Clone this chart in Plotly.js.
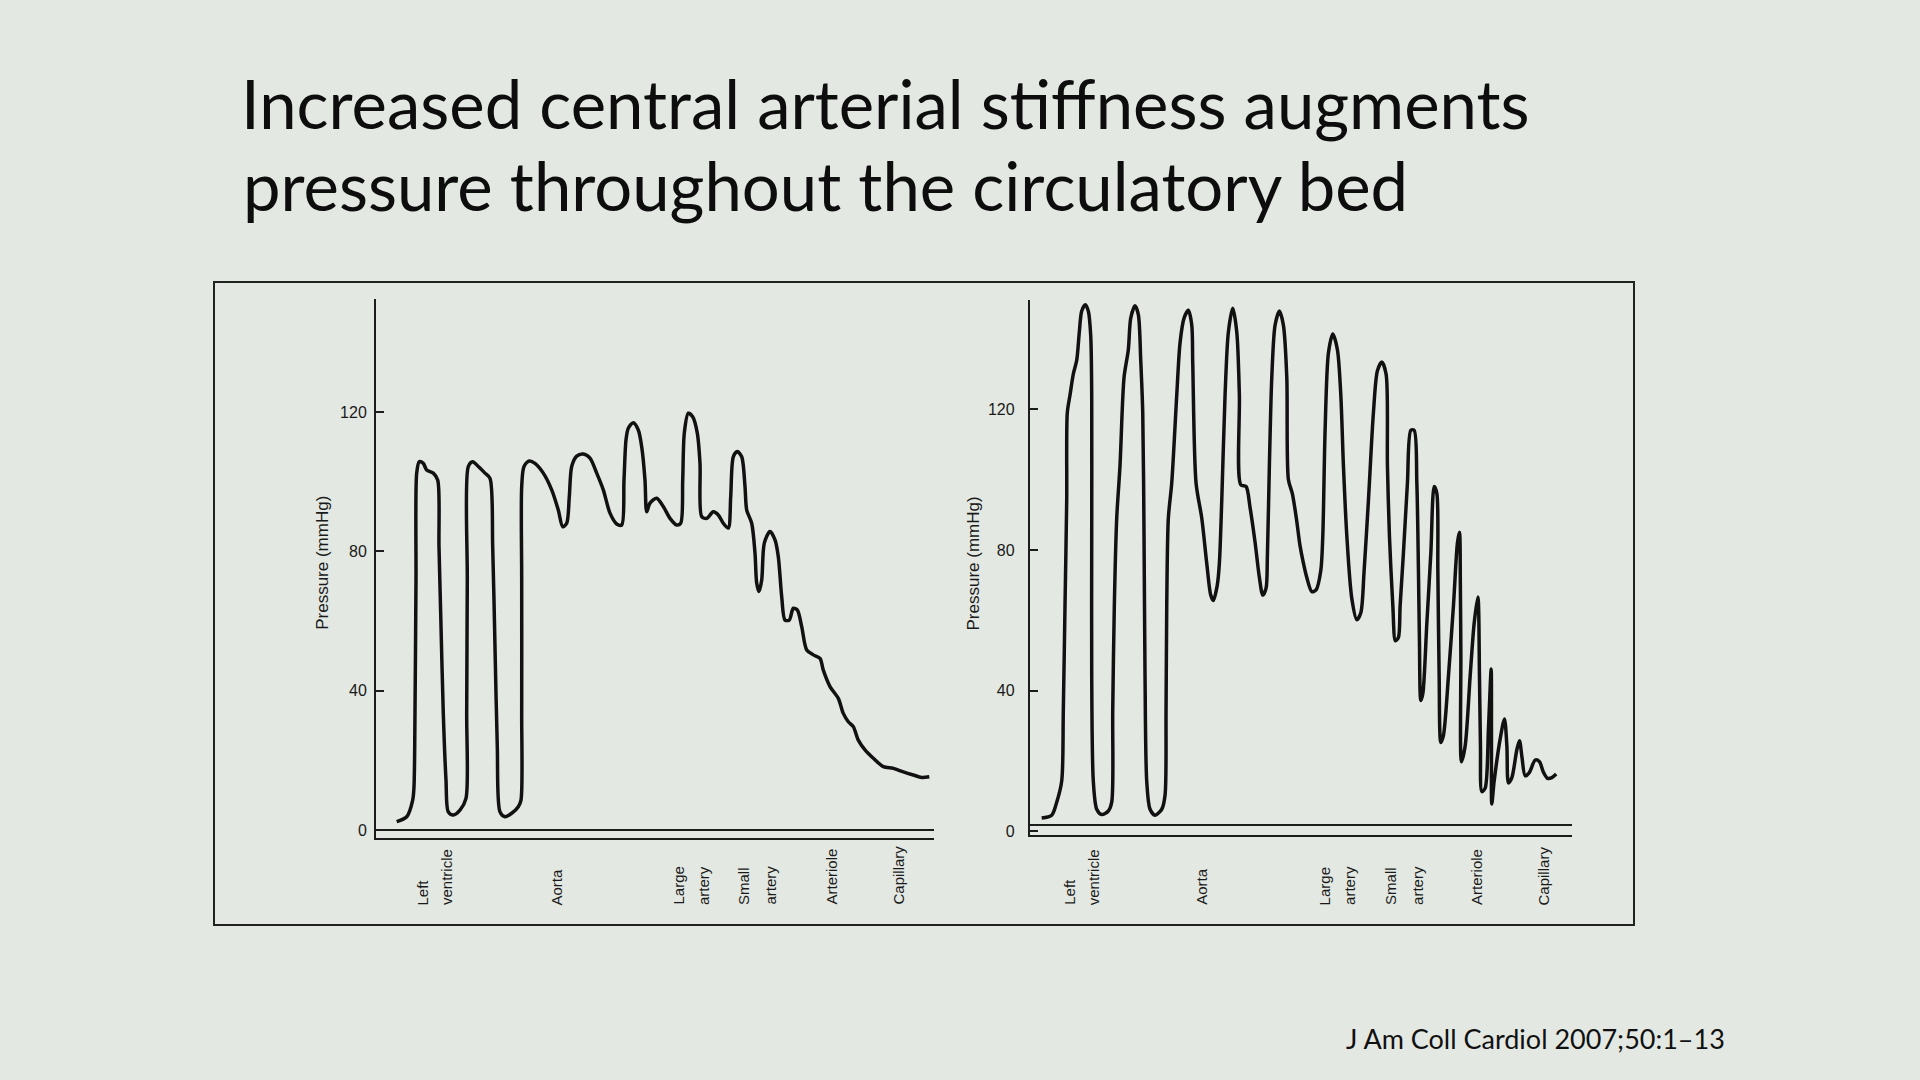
<!DOCTYPE html>
<html>
<head>
<meta charset="utf-8">
<script src="https://cdn.plot.ly/plotly-3.0.1.min.js"></script>
<style>
  html, body { margin: 0; padding: 0; background: #e3e8e2; }
  #chart { width: 1920px; height: 1080px; }
</style>
</head>
<body>
<div id="chart"></div>
<script>
// ---- Data (position along the bed, pressure in mmHg) ----
// Left panel: compliant (normal) central arteries
const leftPos = [20.7,30.7,36.7,38.0,39.0,40.0,40.7,43.3,47.3,50.7,
  57.3,61.7,63.0,64.7,67.3,70.0,72.3,77.3,84.0,90.0,
  90.7,91.3,92.3,96.7,102.3,109.0,114.0,116.7,119.0,121.3,
  124.0,129.0,135.7,142.3,145.0,145.7,145.7,145.7,148.0,153.3,
  159.0,167.3,175.7,182.3,186.7,190.7,193.3,195.7,200.7,207.3,
  214.0,220.7,227.3,234.0,240.7,245.7,248.0,250.0,252.3,257.3,
  262.3,265.7,269.0,270.7,274.0,280.7,287.3,294.0,300.7,304.7,
  306.7,308.3,312.3,316.7,321.3,324.0,325.7,330.7,337.3,342.3,
  347.3,352.3,354.7,357.3,361.3,365.7,369.0,370.7,375.7,379.0,
  380.7,383.0,385.7,388.3,394.0,399.0,402.3,405.7,409.0,413.3,
  417.3,421.3,425.7,430.7,437.3,444.0,447.3,454.0,462.3,467.3,
  472.3,477.3,482.3,489.0,497.3,507.3,517.3,527.3,537.3,545.7,
  553.3];
const leftPressure = [2.4,3.8,8.6,12.4,33.5,71.8,102.5,105.8,105.3,103.4,
  102.5,100.5,81.4,62.2,33.5,14.3,5.2,4.3,5.7,9.1,
  33.5,71.8,104.4,105.8,104.4,102.5,101.0,81.4,52.6,23.9,
  5.2,3.8,4.8,6.7,8.6,33.5,71.8,98.6,104.4,106.0,
  105.3,102.5,97.7,91.9,87.1,88.1,95.7,104.4,107.4,108.0,
  106.8,102.5,97.7,91.0,87.9,87.6,100.5,112.0,115.4,117.0,
  114.9,110.1,100.5,91.4,93.9,95.3,92.9,89.5,87.6,88.1,
  100.5,114.0,119.7,118.7,114.0,105.3,90.0,89.5,91.4,90.5,
  88.1,86.7,95.7,107.2,108.7,107.2,98.6,91.9,88.1,79.5,
  70.9,68.5,71.8,82.4,85.7,83.3,78.5,67.0,60.3,60.3,
  63.7,63.2,58.4,51.7,50.3,49.3,45.9,41.2,37.8,33.5,
  31.1,29.7,25.8,23.0,20.6,18.2,17.7,16.7,15.8,15.1,
  15.3];

// Right panel: stiff central arteries
const rightPos = [11.9,21.9,26.9,31.9,33.5,35.2,36.9,37.5,40.2,43.5,
  46.9,49.5,51.9,55.5,58.5,60.9,61.9,61.9,61.9,63.5,
  66.9,71.9,78.5,81.9,82.9,84.5,86.9,90.2,94.2,98.5,
  100.9,105.2,108.5,110.9,112.9,114.2,115.2,116.9,120.2,125.2,
  131.9,135.2,136.2,136.9,138.5,141.9,146.9,150.2,154.2,158.5,
  161.9,162.9,166.2,171.9,176.9,180.9,183.5,187.5,189.5,191.9,
  195.2,198.5,202.9,206.9,209.5,210.9,216.2,220.2,225.2,229.5,
  232.9,236.2,237.5,239.5,241.9,245.2,249.5,253.5,256.9,258.5,
  262.5,266.5,270.0,273.0,276.9,281.9,286.2,290.9,292.9,295.2,
  298.5,302.9,307.5,310.9,313.5,316.9,321.9,326.9,330.9,334.2,
  338.5,343.5,347.5,351.9,356.2,357.5,359.5,362.9,365.5,368.5,
  370.2,373.5,377.5,380.9,384.2,386.9,388.5,389.5,390.9,392.9,
  396.9,400.9,404.2,406.9,407.9,409.2,410.9,413.5,418.5,423.5,
  427.5,429.5,430.4,430.9,431.5,435.2,440.2,444.2,447.9,449.5,
  450.5,451.9,455.2,458.5,461.2,461.5,461.8,464.2,470.2,474.5,
  476.9,478.5,481.9,486.9,489.5,491.9,495.2,499.5,505.2,509.5,
  513.5,517.5,521.9,526.2];
const rightPressure = [3.8,4.6,8.3,14.3,34.2,64.2,94.1,119.1,124.1,130.1,
  134.0,142.0,148.0,149.8,148.0,141.0,124.1,84.1,44.2,14.3,
  6.3,4.8,5.8,8.3,34.2,64.2,89.1,104.1,129.1,137.0,
  146.0,149.5,147.0,134.0,119.1,84.1,44.2,14.3,6.3,4.6,
  6.3,10.3,34.2,64.2,89.1,99.1,124.1,139.0,146.0,148.2,
  144.0,133.0,99.1,89.1,76.2,67.2,65.7,70.2,76.2,94.1,
  124.1,142.0,148.8,142.0,124.1,98.6,98.1,92.1,82.2,72.2,
  67.2,69.2,78.2,104.1,129.1,144.0,148.0,144.0,129.1,100.1,
  96.0,89.0,81.5,77.0,72.2,68.2,68.7,74.2,84.1,114.1,
  136.0,141.5,137.0,124.1,104.1,84.1,66.2,60.2,62.2,74.2,
  94.1,119.1,131.0,133.5,130.0,104.1,84.1,64.2,54.2,55.2,
  64.2,79.2,99.1,114.1,114.1,99.1,74.2,54.2,37.2,39.2,
  59.2,79.2,98.1,96.1,74.2,44.2,25.3,27.3,44.2,64.2,
  82.1,85.1,70.0,50.0,19.8,24.3,44.2,59.2,66.7,44.2,
  24.3,11.3,12.3,29.3,46.2,25.0,7.8,14.3,26.3,32.0,
  24.3,13.8,15.3,23.3,25.8,21.3,15.8,16.8,20.3,19.8,
  16.8,15.1,15.3,16.3];

// Axis ticks and site labels
const pressureTicks = [0, 40, 80, 120];
const pressureTickText = ['0', '40', '80', '120'];
const siteLabels = ['Left', 'ventricle', 'Aorta', 'Large', 'artery', 'Small', 'artery', 'Arteriole', 'Capillary'];
const siteLeftPos = [46.5, 71, 180, 302.5, 327.5, 368, 394, 455.5, 522];
const siteRightPos = [40, 64.5, 171.5, 295.5, 319.5, 361, 387.5, 447, 513];

const titleLine1 = 'Increased central arterial stiffness augments';
const titleLine2 = 'pressure throughout the circulatory bed';
const yTitle = 'Pressure (mmHg)';
const citation = 'J Am Coll Cardiol 2007;50:1\u201313';

// ---- Styling ----
const BG = '#e3e8e2';
const INK = '#111111';
const AXIS = '#1c1c1c';
const LABEL = '#1a1a1a';
const figFont = 'Liberation Sans, Arial, Helvetica, sans-serif';

const traceStyle = { color: INK, width: 3.5, shape: 'spline', smoothing: 0.8 };

const traces = [
  { x: leftPos, y: leftPressure, type: 'scatter', mode: 'lines', line: traceStyle,
    xaxis: 'x', yaxis: 'y', hoverinfo: 'skip', showlegend: false },
  { x: rightPos, y: rightPressure, type: 'scatter', mode: 'lines', line: traceStyle,
    xaxis: 'x2', yaxis: 'y2', hoverinfo: 'skip', showlegend: false }
];

function xAxis(domain, range, anchor) {
  return { domain: domain, range: range, anchor: anchor, showline: true, linecolor: AXIS, linewidth: 2,
    showticklabels: false, ticks: '', showgrid: false, zeroline: false, fixedrange: true };
}
function yAxis(domain, range, anchor, standoff) {
  return { domain: domain, range: range, anchor: anchor, showline: true, linecolor: AXIS, linewidth: 2,
    tickmode: 'array', tickvals: pressureTicks, ticktext: pressureTickText,
    ticks: 'inside', ticklen: 8, tickwidth: 2, tickcolor: AXIS, ticklabelstandoff: standoff,
    tickfont: { family: figFont, size: 16, color: LABEL },
    showgrid: false, zeroline: false, fixedrange: true };
}

const annotations = [];
siteLabels.forEach((t, i) => {
  annotations.push({ text: t, x: siteLeftPos[i], xref: 'x', y: 0.1602, yref: 'paper',
    xanchor: 'center', yanchor: 'bottom', textangle: -90, showarrow: false,
    font: { family: figFont, size: 15, color: LABEL } });
  annotations.push({ text: t, x: siteRightPos[i], xref: 'x2', y: 0.1602, yref: 'paper',
    xanchor: 'center', yanchor: 'bottom', textangle: -90, showarrow: false,
    font: { family: figFont, size: 15, color: LABEL } });
});
annotations.push({ text: yTitle, x: 0.16823, y: 0.4789, xref: 'paper', yref: 'paper',
  xanchor: 'center', yanchor: 'middle', textangle: -90, showarrow: false,
  font: { family: figFont, size: 17, color: LABEL } });
annotations.push({ text: yTitle, x: 0.50703, y: 0.4787, xref: 'paper', yref: 'paper',
  xanchor: 'center', yanchor: 'middle', textangle: -90, showarrow: false,
  font: { family: figFont, size: 17, color: LABEL } });
annotations.push({ text: titleLine2, x: 0.1255, y: 0.7901, xref: 'paper', yref: 'paper',
  xanchor: 'left', yanchor: 'bottom', showarrow: false,
  font: { family: 'Lato, sans-serif', size: 67, color: '#0d0d0d' } });
annotations.push({ text: citation, x: 0.7, y: 0.0216, xref: 'paper', yref: 'paper',
  xanchor: 'left', yanchor: 'bottom', showarrow: false,
  font: { family: 'Lato, sans-serif', size: 27, color: '#111111' } });

const layout = {
  width: 1920, height: 1080,
  margin: { l: 0, r: 0, t: 0, b: 0, pad: 0 },
  paper_bgcolor: BG, plot_bgcolor: 'rgba(0,0,0,0)',
  showlegend: false,
  title: { text: titleLine1, x: 0.1255, xref: 'paper', xanchor: 'left',
    y: 0.9244, yref: 'container', yanchor: 'top',
    font: { family: 'Lato, sans-serif', size: 67, color: '#0d0d0d' } },
  xaxis: xAxis([0.19583, 0.48646], [0, 558], 'y'),
  yaxis: yAxis([0.22407, 0.72343], [-2.3, 152.6], 'x', 4),
  xaxis2: xAxis([0.53635, 0.81875], [0, 542], 'y2'),
  yaxis2: yAxis([0.22648, 0.72241], [-1.14, 151.2], 'x2', 10),
  shapes: [
    { type: 'line', xref: 'x', yref: 'y', x0: 0, x1: 558, y0: 0, y1: 0, line: { color: AXIS, width: 2 } },
    { type: 'line', xref: 'x2', yref: 'y2', x0: 0, x1: 542, y0: 1.85, y1: 1.85, line: { color: AXIS, width: 2 } },
    { type: 'rect', xref: 'paper', yref: 'paper', x0: 0.11146, x1: 0.85104, y0: 0.14352, y1: 0.73889,
      line: { color: '#222222', width: 2 }, fillcolor: 'rgba(0,0,0,0)' }
  ],
  annotations: annotations
};

Plotly.newPlot('chart', traces, layout, { staticPlot: true, displayModeBar: false });
</script>
</body>
</html>
